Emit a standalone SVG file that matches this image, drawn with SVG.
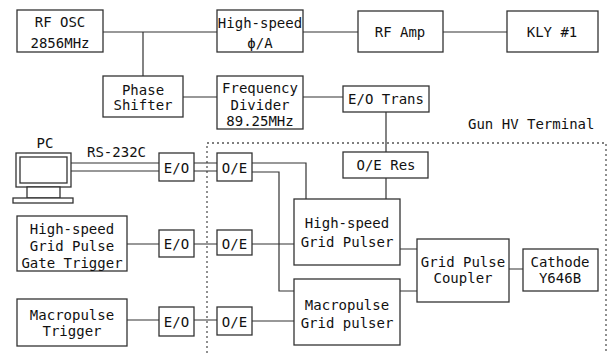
<svg xmlns="http://www.w3.org/2000/svg" width="608" height="353" viewBox="0 0 608 353">
<style>
.b{fill:#fff;stroke:#333;stroke-width:1.3}
.c{fill:none;stroke:#333;stroke-width:1.2}
.d{fill:none;stroke:#555;stroke-width:1.3;stroke-dasharray:2 3}
text{font-family:"DejaVu Sans Mono","Liberation Mono",monospace;font-size:14px;fill:#111;text-anchor:middle}
</style>
<rect width="608" height="353" fill="#fff"/>
<path class="d" d="M207,353V143H606V353"/>
<g id="connectors">
<path class="c" d="M103,32H217M143,32V76M303,32H358M443,32H507M183,97H217M303,97H343M386,112V152M386,178V199"/>
<path class="c" d="M71,163H159M71,171H159M194,163H217M194,171H217"/>
<path class="c" d="M252,163H306V199M252,172H279V291H294M127,244H159M194,244H217M252,244H294M127,320H159M194,320H217M252,321H294"/>
<path class="c" d="M400,249H417M400,291H417M509,269H523"/>
</g>
<g id="rfosc"><rect class="b" x="17" y="10" width="86" height="42"/><text x="60" y="27">RF OSC</text><text x="60" y="48">2856MHz</text></g>
<g id="hsphase"><rect class="b" x="217" y="10" width="86" height="42"/><text x="260" y="28">High-speed</text><text x="260" y="48">ϕ/A</text></g>
<g id="rfamp"><rect class="b" x="358" y="11" width="85" height="41"/><text x="400" y="37">RF Amp</text></g>
<g id="kly"><rect class="b" x="507" y="11" width="91" height="41"/><text x="552" y="37">KLY #1</text></g>
<g id="phase"><rect class="b" x="103" y="76" width="80" height="41"/><text x="143" y="95">Phase</text><text x="143" y="110">Shifter</text></g>
<g id="freqdiv"><rect class="b" x="217" y="76" width="86" height="53"/><text x="260" y="93">Frequency</text><text x="260" y="110">Divider</text><text x="260" y="126">89.25MHz</text></g>
<g id="eotrans"><rect class="b" x="343" y="86" width="86" height="26"/><text x="386" y="104">E/O Trans</text></g>
<g id="label"><text x="468" y="129" style="text-anchor:start">Gun HV Terminal</text></g>
<g id="oeres"><rect class="b" x="343" y="152" width="85" height="26"/><text x="386" y="170">O/E Res</text></g>
<g id="pc">
<rect class="b" x="16" y="153" width="55" height="34"/>
<rect class="b" x="20" y="157" width="47" height="26"/>
<rect class="b" x="27" y="187" width="33" height="11"/>
<rect class="b" x="13" y="198" width="60" height="5"/>
<text x="45" y="148">PC</text>
<text x="87" y="157" style="text-anchor:start">RS-232C</text>
</g>
<g id="eo1"><rect class="b" x="159" y="153" width="35" height="28"/><text x="176.5" y="173">E/O</text></g>
<g id="oe1"><rect class="b" x="217" y="153" width="35" height="28"/><text x="234.5" y="173">O/E</text></g>
<g id="hsgate"><rect class="b" x="17" y="216" width="110" height="55"/><text x="72" y="234">High-speed</text><text x="72" y="251">Grid Pulse</text><text x="72" y="268">Gate Trigger</text></g>
<g id="eo2"><rect class="b" x="159" y="230" width="35" height="27"/><text x="176.5" y="249">E/O</text></g>
<g id="oe2"><rect class="b" x="217" y="230" width="35" height="25"/><text x="234.5" y="249">O/E</text></g>
<g id="hspulser"><rect class="b" x="294" y="199" width="106" height="66"/><text x="347" y="228">High-speed</text><text x="347" y="247">Grid Pulser</text></g>
<g id="macrotrig"><rect class="b" x="17" y="299" width="110" height="47"/><text x="72" y="320">Macropulse</text><text x="72" y="336">Trigger</text></g>
<g id="eo3"><rect class="b" x="159" y="307" width="35" height="29"/><text x="176.5" y="327">E/O</text></g>
<g id="oe3"><rect class="b" x="217" y="307" width="35" height="28"/><text x="234.5" y="327">O/E</text></g>
<g id="macropulser"><rect class="b" x="294" y="279" width="106" height="66"/><text x="347" y="310">Macropulse</text><text x="347" y="328">Grid pulser</text></g>
<g id="coupler"><rect class="b" x="417" y="239" width="92" height="63"/><text x="463" y="267">Grid Pulse</text><text x="463" y="283">Coupler</text></g>
<g id="cathode"><rect class="b" x="523" y="249" width="75" height="42"/><text x="560" y="267">Cathode</text><text x="560" y="283">Y646B</text></g>
</svg>
